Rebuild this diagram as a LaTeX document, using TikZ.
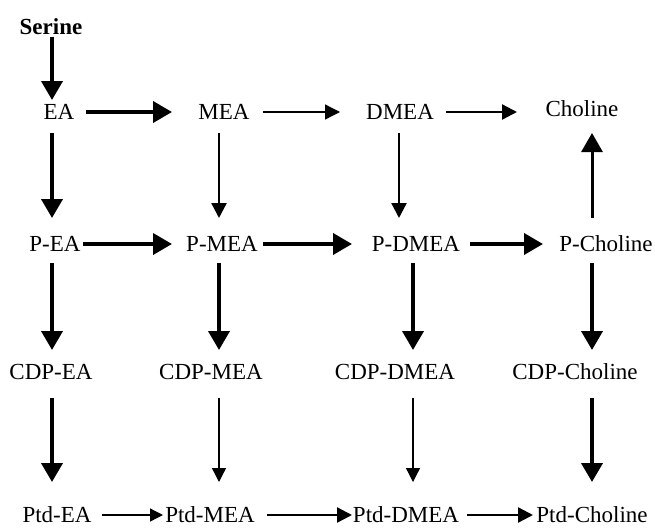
\documentclass[tikz,border=0pt]{standalone}
\usepackage{fontspec}
\setmainfont{Liberation Serif}
\usetikzlibrary{arrows.meta}
\tikzset{
  lbl/.style={inner sep=0pt, text height=15pt, text depth=0pt, font=\fontsize{23}{23}\selectfont},
  thickarr/.style={line width=3.8pt, -{Triangle[length=19pt,width=21pt]}},
  medarr/.style={line width=2.3pt, -{Triangle[length=15pt,width=15pt]}},
  thinarr/.style={line width=1.3pt, -{Triangle[length=13pt,width=13pt]}}
}
\begin{document}
\begin{tikzpicture}[x=1pt,y=-1pt]
\useasboundingbox (0,0) rectangle (655,527);
\coordinate (c1) at (52,0);
\coordinate (c2) at (219,0);
\coordinate (c3a) at (399,0);
\coordinate (c3) at (413,0);
\coordinate (c4) at (592,0);
% nodes
\node[lbl, font=\fontsize{23}{23}\selectfont\bfseries, text height=15pt] (Ser) at (51,27) {Serine};
\node[lbl] (EA) at (59,112) {EA};
\node[lbl] (MEA) at (224,112) {MEA};
\node[lbl] (DMEA) at (400,112) {DMEA};
\node[lbl] (Cho) at (582,109) {Choline};
\node[lbl] (PEA) at (55,244) {P-EA};
\node[lbl] (PMEA) at (222,244) {P-MEA};
\node[lbl] (PDMEA) at (416,244) {P-DMEA};
\node[lbl] (PCho) at (606,244) {P-Choline};
\node[lbl] (CEA) at (51,372) {CDP-EA};
\node[lbl] (CMEA) at (211,372) {CDP-MEA};
\node[lbl] (CDMEA) at (395,372) {CDP-DMEA};
\node[lbl] (CCho) at (575,372) {CDP-Choline};
\node[lbl] (TEA) at (57,515) {Ptd-EA};
\node[lbl] (TMEA) at (210,515) {Ptd-MEA};
\node[lbl] (TDMEA) at (406,515) {Ptd-DMEA};
\node[lbl] (TCho) at (592,515) {Ptd-Choline};
% horizontal arrows
\draw[thickarr, shorten <=27pt, shorten >=52pt] (EA.center) -- (MEA.center);
\draw[thinarr, -{Triangle[length=15pt,width=15pt]}, shorten <=39pt, shorten >=60pt] (MEA.center) -- (DMEA.center);
\draw[medarr, shorten <=46pt, shorten >=65pt] (DMEA.center) -- (Cho.center |- DMEA.center);
\draw[thickarr, shorten <=28pt, shorten >=50pt] (PEA.center) -- (PMEA.center);
\draw[thickarr, shorten <=41pt, shorten >=64pt] (PMEA.center) -- (PDMEA.center);
\draw[thickarr, shorten <=54pt, shorten >=63pt] (PDMEA.center) -- (PCho.center);
\draw[thinarr, shorten <=45pt, shorten >=47pt] (TEA.center) -- (TMEA.center);
\draw[medarr, shorten <=57pt, shorten >=54pt] (TMEA.center) -- (TDMEA.center);
\draw[medarr, shorten <=61pt, shorten >=59pt] (TDMEA.center) -- (TCho.center);
% vertical arrows
\draw[thickarr, shorten <=10pt, shorten >=12pt] (Ser.center -| c1) -- (EA.center -| c1);
\draw[thickarr, shorten <=21pt, shorten >=26pt] (EA.center -| c1) -- (PEA.center -| c1);
\draw[medarr, shorten <=21pt, shorten >=26pt] (MEA.center -| c2) -- (PMEA.center -| c2);
\draw[medarr, shorten <=21pt, shorten >=26pt] (DMEA.center -| c3a) -- (PDMEA.center -| c3a);
\draw[thickarr, line width=3pt, shorten <=26pt, shorten >=24pt] (PCho.center -| c4) -- (Cho.center -| c4);
\draw[thickarr, shorten <=19pt, shorten >=22pt] (PEA.center -| c1) -- (CEA.center -| c1);
\draw[thickarr, shorten <=19pt, shorten >=22pt] (PMEA.center -| c2) -- (CMEA.center -| c2);
\draw[thickarr, shorten <=19pt, shorten >=22pt] (PDMEA.center -| c3) -- (CDMEA.center -| c3);
\draw[thickarr, shorten <=19pt, shorten >=22pt] (PCho.center -| c4) -- (CCho.center -| c4);
\draw[thickarr, shorten <=26pt, shorten >=33pt] (CEA.center -| c1) -- (TEA.center -| c1);
\draw[thinarr, -{Triangle[length=14pt,width=14pt]}, shorten <=26pt, shorten >=33pt] (CMEA.center -| c2) -- (TMEA.center -| c2);
\draw[thinarr, -{Triangle[length=14pt,width=14pt]}, shorten <=26pt, shorten >=33pt] (CDMEA.center -| c3) -- (TDMEA.center -| c3);
\draw[thickarr, shorten <=26pt, shorten >=33pt] (CCho.center -| c4) -- (TCho.center -| c4);
\end{tikzpicture}
\end{document}
